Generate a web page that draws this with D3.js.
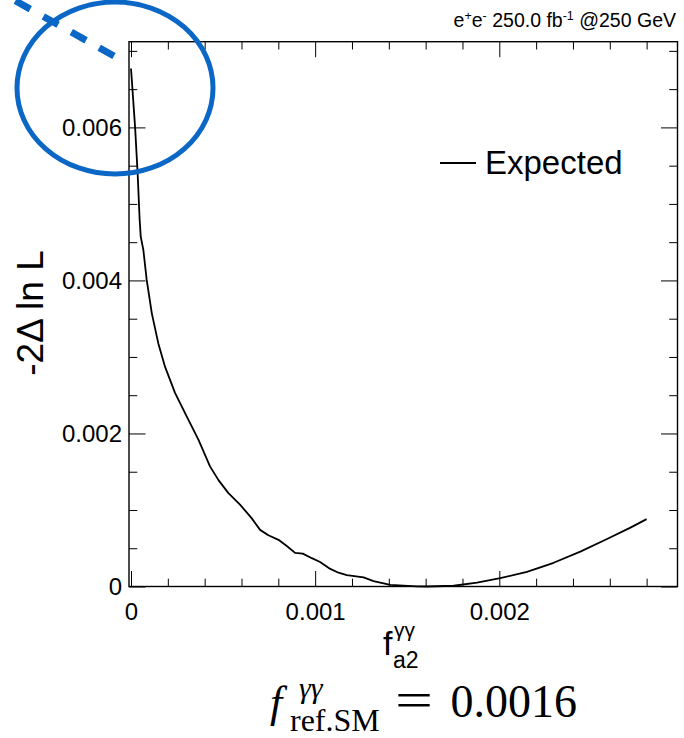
<!DOCTYPE html>
<html>
<head>
<meta charset="utf-8">
<script src="https://cdn.jsdelivr.net/npm/d3@7/dist/d3.min.js"></script>
<style>
  html, body { margin: 0; padding: 0; background: #fff; }
  svg { display: block; }
</style>
</head>
<body>
<svg id="chart" width="684" height="738"></svg>
<script>
// Expected likelihood scan: -2 Delta ln L versus f_a2^{gamma gamma}
const fa2Values = [
  0, 0.000022, 0.000036, 0.000047, 0.000053, 0.000067, 0.000085, 0.000113,
  0.000148, 0.000185, 0.000239, 0.000303, 0.000366, 0.000429, 0.000475, 0.000529,
  0.000592, 0.000656, 0.000701, 0.000746, 0.000801, 0.000846, 0.000891, 0.000933,
  0.000982, 0.001027, 0.001082, 0.001127, 0.001172, 0.001263, 0.001317, 0.001408,
  0.001553, 0.001607, 0.001752, 0.001879, 0.002005, 0.00215, 0.002295, 0.00244,
  0.002585, 0.002712, 0.0028
];
const expectedValues = [
  0.00677, 0.00601, 0.00540, 0.00479, 0.00457, 0.00440, 0.00401, 0.00357,
  0.00318, 0.00287, 0.00253, 0.00222, 0.00192, 0.00157, 0.00139, 0.00122,
  0.00107, 0.00089, 0.00074, 0.00067, 0.00061, 0.00053, 0.00044, 0.00043,
  0.00037, 0.00032, 0.00023, 0.00018, 0.00015, 0.00012, 0.00007, 0.00002,
  0.000002, 0, 0.00001, 0.00005, 0.00011, 0.00019, 0.00031, 0.000455,
  0.00062, 0.00077, 0.00088
];

// Axis ranges and ticks
const xDomain = [-0.0000109, 0.0029677];
const yDomain = [0, 0.00712];
const xMajorTicks = [0, 0.001, 0.002];
const xTickLabels = ["0", "0.001", "0.002"];
const xMinorTicks = [0.0002, 0.0004, 0.0006, 0.0008, 0.0012, 0.0014, 0.0016, 0.0018,
                     0.0022, 0.0024, 0.0026, 0.0028];
const yMajorTicks = [0, 0.002, 0.004, 0.006];
const yTickLabels = ["0", "0.002", "0.004", "0.006"];
const yMinorTicks = [0.0005, 0.001, 0.0015, 0.0025, 0.003, 0.0035, 0.0045, 0.005,
                     0.0055, 0.0065, 0.007];

const sans = "'Liberation Sans', Arial, Helvetica, sans-serif";
const serif = "'Liberation Serif', 'Times New Roman', serif";

const svg = d3.select("#chart");
const frame = { left: 129, right: 677.5, top: 41.7, bottom: 586.5 };

const x = d3.scaleLinear().domain(xDomain).range([frame.left, frame.right]);
const y = d3.scaleLinear().domain(yDomain).range([frame.bottom, frame.top]);

const majX = 15.5, minX = 7.8, majY = 16.5, minY = 8.3;

function styleAxis(g, fontSize) {
  g.select(".domain").remove();
  g.selectAll(".tick line").attr("stroke", "#000").attr("stroke-width", 1);
  g.attr("font-family", sans).attr("font-size", fontSize);
  g.selectAll(".tick text").attr("fill", "#000");
}

// Bottom axis: major ticks with labels, minor ticks without
svg.append("g").attr("transform", `translate(0,${frame.bottom})`)
  .call(d3.axisBottom(x).tickValues(xMajorTicks).tickSize(-majX).tickPadding(16.5)
    .tickFormat((d, i) => xTickLabels[i]))
  .call(g => styleAxis(g, 24));
svg.append("g").attr("transform", `translate(0,${frame.bottom})`)
  .call(d3.axisBottom(x).tickValues(xMinorTicks).tickSize(-minX).tickFormat(""))
  .call(g => styleAxis(g, 24));
// Top axis mirror ticks
svg.append("g").attr("transform", `translate(0,${frame.top})`)
  .call(d3.axisTop(x).tickValues(xMajorTicks).tickSize(-majX).tickFormat(""))
  .call(g => styleAxis(g, 24));
svg.append("g").attr("transform", `translate(0,${frame.top})`)
  .call(d3.axisTop(x).tickValues(xMinorTicks).tickSize(-minX).tickFormat(""))
  .call(g => styleAxis(g, 24));

// Left axis
svg.append("g").attr("transform", `translate(${frame.left},0)`)
  .call(d3.axisLeft(y).tickValues(yMajorTicks).tickSize(-majY).tickPadding(7)
    .tickFormat((d, i) => yTickLabels[i]))
  .call(g => styleAxis(g, 24));
svg.append("g").attr("transform", `translate(${frame.left},0)`)
  .call(d3.axisLeft(y).tickValues(yMinorTicks).tickSize(-minY).tickFormat(""))
  .call(g => styleAxis(g, 24));
// Right axis mirror ticks
svg.append("g").attr("transform", `translate(${frame.right},0)`)
  .call(d3.axisRight(y).tickValues(yMajorTicks).tickSize(-majY).tickFormat(""))
  .call(g => styleAxis(g, 24));
svg.append("g").attr("transform", `translate(${frame.right},0)`)
  .call(d3.axisRight(y).tickValues(yMinorTicks).tickSize(-minY).tickFormat(""))
  .call(g => styleAxis(g, 24));

// Frame
svg.append("rect")
  .attr("x", frame.left).attr("y", frame.top)
  .attr("width", frame.right - frame.left).attr("height", frame.bottom - frame.top)
  .attr("fill", "none").attr("stroke", "#000").attr("stroke-width", 1.4);

// Expected curve
const points = fa2Values.map((v, i) => [v, expectedValues[i]]);
svg.append("path")
  .datum(points)
  .attr("fill", "none").attr("stroke", "#000").attr("stroke-width", 1.8)
  .attr("stroke-linejoin", "round")
  .attr("d", d3.line().x(d => x(d[0])).y(d => y(d[1])));

// Legend
svg.append("line").attr("x1", 440).attr("x2", 476).attr("y1", 163).attr("y2", 163)
  .attr("stroke", "#000").attr("stroke-width", 1.8);
svg.append("text").attr("x", 485).attr("y", 174)
  .attr("font-family", sans).attr("font-size", 33).text("Expected");

// Luminosity / energy label
const lumi = svg.append("text").attr("x", 676).attr("y", 27).attr("text-anchor", "end")
  .attr("font-family", sans).attr("font-size", 19.5);
lumi.append("tspan").text("e");
lumi.append("tspan").attr("dy", -7).attr("font-size", 12.5).text("+");
lumi.append("tspan").attr("dy", 7).text("e");
lumi.append("tspan").attr("dy", -7).attr("font-size", 12.5).text("-");
lumi.append("tspan").attr("dy", 7).text(" 250.0 fb");
lumi.append("tspan").attr("dy", -7).attr("font-size", 12.5).text("-1");
lumi.append("tspan").attr("dy", 7).text(" @250 GeV");

// Y axis title
svg.append("text")
  .attr("transform", "translate(43,313) rotate(-90)")
  .attr("text-anchor", "middle")
  .attr("font-family", sans).attr("font-size", 37)
  .text("-2\u0394 ln L");

// X axis title: f_a2^{gamma gamma}
const xt = svg.append("g").attr("font-family", sans);
xt.append("text").attr("x", 383).attr("y", 655).attr("font-size", 34).text("f");
xt.append("text").attr("x", 394).attr("y", 637).attr("font-size", 21).text("\u03B3\u03B3");
xt.append("text").attr("x", 393).attr("y", 668).attr("font-size", 23).text("a2");

// Reference value
const ft = svg.append("g").attr("font-family", serif);
ft.append("text").attr("x", 270).attr("y", 717).attr("font-size", 44)
  .attr("font-style", "italic").text("f");
ft.append("text").attr("x", 299).attr("y", 698).attr("font-size", 30)
  .attr("font-style", "italic").text("\u03B3\u03B3");
ft.append("text").attr("x", 290).attr("y", 731).attr("font-size", 32).text("ref.SM");
ft.append("text").attr("x", 395).attr("y", 717).attr("font-size", 50)
  .attr("textLength", 38).attr("lengthAdjust", "spacingAndGlyphs").text("=");
ft.append("text").attr("x", 577).attr("y", 717).attr("text-anchor", "end")
  .attr("font-size", 46).text("0.0016");

// Highlight ellipse and dashed pointer
svg.append("ellipse").attr("cx", 115).attr("cy", 88).attr("rx", 98).attr("ry", 86)
  .attr("fill", "none").attr("stroke", "#0b67c5").attr("stroke-width", 5);
svg.append("line").attr("x1", 114).attr("y1", 56).attr("x2", -20).attr("y2", -19)
  .attr("stroke", "#0b67c5").attr("stroke-width", 7).attr("stroke-dasharray", "17,15");
</script>
</body>
</html>
